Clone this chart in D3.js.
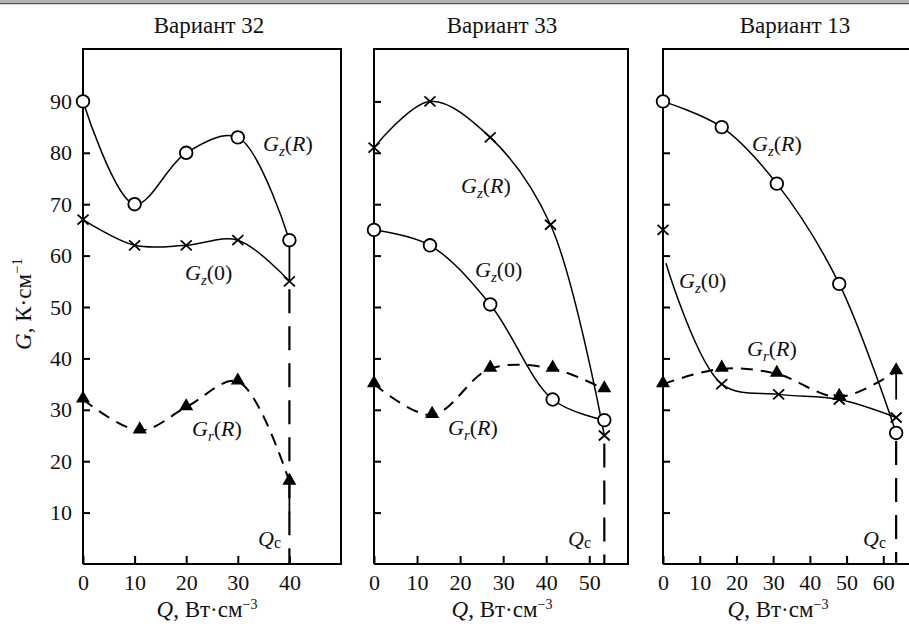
<!DOCTYPE html>
<html>
<head>
<meta charset="utf-8">
<script src="https://cdn.jsdelivr.net/npm/d3@7"></script>
<style>
  body { margin: 0; background: #fff; }
  svg text { font-family: "Liberation Serif", "Times New Roman", "DejaVu Serif", serif; fill: #111; }
</style>
</head>
<body>
<div id="chart"></div>
<script>
// values
var titles = ["Вариант 32", "Вариант 33", "Вариант 13"];
var yTicks = [10, 20, 30, 40, 50, 60, 70, 80, 90];
var xTicks32 = [0, 10, 20, 30, 40];
var xTicks33 = [0, 10, 20, 30, 40, 50];
var xTicks13 = [0, 10, 20, 30, 40, 50, 60];

// Вариант 32
var v32_q     = [0, 10, 20, 30, 40];
var v32_gzR   = [90, 70, 80, 83, 63];
var v32_gz0   = [67, 62, 62, 63, 55];
var v32_grR_q = [0, 11, 20, 30, 40];
var v32_grR   = [32, 26, 30.5, 35.5, 16];
var v32_qc = 40, v32_qcTop = 55;

// Вариант 33
var v33_gzR_q = [0, 13, 27, 41, 53.5];
var v33_gzR   = [81, 90, 83, 66, 25];
var v33_gz0_q = [0, 13, 27, 41.5, 53.5];
var v33_gz0   = [65, 62, 50.5, 32, 28];
var v33_grR_q = [0, 13.5, 27, 41.5, 53.5];
var v33_grR   = [35, 29, 38, 38, 34];
var v33_qc = 53.5, v33_qcTop = 25;

// Вариант 13
var v13_q     = [0, 16, 31, 48, 63.5];
var v13_gzR   = [90, 85, 74, 54.5, 25.5];
var v13_gz0_q = [0, 16, 31.5, 48, 63.5];
var v13_gz0   = [65, 35, 33, 32, 28.5];
var v13_gz0_start = [0.8, 58.5];   // curve starts below the first cross
var v13_grR   = [35, 38, 37, 32.5, 37.5];
var v13_qc = 63.5, v13_qcTop = 25.5;

function pts(xs, ys) { return xs.map(function(d, i) { return [d, ys[i]]; }); }

var W = 909, H = 626;
var svg = d3.select("#chart").append("svg")
    .attr("width", W).attr("height", H);

svg.append("rect").attr("width", W).attr("height", H).attr("fill", "#fff");
// grey strip at the very top
svg.append("rect").attr("x", 0).attr("y", 0).attr("width", W).attr("height", 3).attr("fill", "#b4b4b4");
svg.append("line").attr("x1", 0).attr("x2", W).attr("y1", 3.6).attr("y2", 3.6)
    .attr("stroke", "#555").attr("stroke-width", 1.4);

var plotTop = 49, plotBottom = 564;
var y = d3.scaleLinear().domain([0, 100]).range([plotBottom, plotTop + 1]);

var panels = [
  { title: titles[0], x0: 83, x1: 341, xmax: 50, ticks: xTicks32, titleX: 209, qlabX: 207, yLabels: true,
    gzR: pts(v32_q, v32_gzR), gz0: pts(v32_q, v32_gz0), grR: pts(v32_grR_q, v32_grR),
    gzRMark: "circle", gz0Mark: "cross",
    gz0Line: pts(v32_q, v32_gz0),
    stems: [[[v32_qc, v32_gzR[4]], [v32_qc, v32_gz0[4]]], [[v32_qc, v32_grR[4]], [v32_qc, 10]]],
    qc: v32_qc, qcTop: v32_qcTop,
    labels: [{s: "z", t: "R", x: 263, y: 151}, {s: "z", t: "0", x: 185, y: 280}, {s: "r", t: "R", x: 192, y: 436}],
    qcLab: 258 },
  { title: titles[1], x0: 374, x1: 628, xmax: 59, ticks: xTicks33, titleX: 502, qlabX: 502, yLabels: false,
    gzR: pts(v33_gzR_q, v33_gzR), gz0: pts(v33_gz0_q, v33_gz0), grR: pts(v33_grR_q, v33_grR),
    gzRMark: "cross", gz0Mark: "circle",
    gz0Line: pts(v33_gz0_q, v33_gz0),
    stems: [],
    qc: v33_qc, qcTop: v33_qcTop,
    labels: [{s: "z", t: "R", x: 461, y: 193}, {s: "z", t: "0", x: 475, y: 277}, {s: "r", t: "R", x: 448, y: 435}],
    qcLab: 568 },
  { title: titles[2], x0: 663, x1: 909, xmax: 67, ticks: xTicks13, titleX: 795, qlabX: 778, yLabels: false, open: true,
    gzR: pts(v13_q, v13_gzR), gz0: pts(v13_gz0_q, v13_gz0), grR: pts(v13_q, v13_grR),
    gzRMark: "circle", gz0Mark: "cross",
    gz0Line: [v13_gz0_start].concat(pts(v13_gz0_q, v13_gz0).slice(1)),
    stems: [[[v13_qc, v13_grR[4]], [v13_qc, 32]]],
    qc: v13_qc, qcTop: v13_qcTop,
    labels: [{s: "z", t: "R", x: 752, y: 151}, {s: "z", t: "0", x: 679, y: 288}, {s: "r", t: "R", x: 747, y: 356}],
    qcLab: 863 }
];

var curve = d3.curveCatmullRom.alpha(0.5);

function drawMarks(g, x, data, kind) {
  data.forEach(function(d) {
    var cx = x(d[0]), cy = y(d[1]);
    if (kind === "circle") {
      g.append("circle").attr("cx", cx).attr("cy", cy).attr("r", 6.3)
        .attr("fill", "#fff").attr("stroke", "#000").attr("stroke-width", 1.8);
    } else if (kind === "cross") {
      g.append("path").attr("d", "M" + (cx - 5.5) + "," + (cy - 5) + "L" + (cx + 5.5) + "," + (cy + 5) +
                               "M" + (cx - 5.5) + "," + (cy + 5) + "L" + (cx + 5.5) + "," + (cy - 5))
        .attr("stroke", "#000").attr("stroke-width", 1.8).attr("fill", "none");
    } else {
      g.append("path").attr("d", d3.symbol(d3.symbolTriangle, 85)())
        .attr("transform", "translate(" + cx + "," + (cy - 1) + ")")
        .attr("fill", "#000");
    }
  });
}

function seriesLabel(g, l) {
  var t = g.append("text").attr("x", l.x).attr("y", l.y).style("font-size", "22px");
  t.append("tspan").style("font-style", "italic").text("G");
  t.append("tspan").attr("dy", 5).style("font-style", "italic").style("font-size", "15px").text(l.s);
  t.append("tspan").attr("dy", -5).text("(");
  t.append("tspan").style("font-style", l.t === "R" ? "italic" : "normal").text(l.t);
  t.append("tspan").text(")");
}

panels.forEach(function(p) {
  var x = d3.scaleLinear().domain([0, p.xmax]).range([p.x0, p.x1]);
  var g = svg.append("g");

  // title
  g.append("text").attr("x", p.titleX).attr("y", 33).attr("text-anchor", "middle")
    .style("font-size", "23px").text(p.title);

  // y axis, ticks inside
  var ya = g.append("g").attr("transform", "translate(" + p.x0 + ",0)")
    .call(d3.axisLeft(y).tickValues(yTicks).tickSize(-7).tickPadding(11).tickSizeOuter(0));
  ya.attr("font-family", null).attr("font-size", null);
  ya.select(".domain").remove();
  ya.selectAll("line").attr("stroke", "#000").attr("stroke-width", 2);
  ya.selectAll("text").style("font-size", "22px").attr("fill", "#111");
  if (!p.yLabels) ya.selectAll("text").remove();

  // x axis, ticks inside
  var xa = g.append("g").attr("transform", "translate(0," + plotBottom + ")")
    .call(d3.axisBottom(x).tickValues(p.ticks).tickSize(-8).tickPadding(10).tickSizeOuter(0));
  xa.attr("font-family", null).attr("font-size", null);
  xa.select(".domain").remove();
  xa.selectAll("line").attr("stroke", "#000").attr("stroke-width", 2);
  xa.selectAll("text").style("font-size", "22px").attr("fill", "#111");

  // frame
  var fr = "M" + p.x0 + "," + plotBottom + "V" + plotTop + "H" + p.x1;
  if (!p.open) fr += "V" + plotBottom;
  fr += (p.open ? "M" + p.x1 + "," + plotBottom : "") + "H" + p.x0;
  g.append("path").attr("d", fr).attr("fill", "none").attr("stroke", "#000").attr("stroke-width", 2);

  var line = d3.line().x(function(d) { return x(d[0]); }).y(function(d) { return y(d[1]); }).curve(curve);

  // Qc dashed vertical
  g.append("line").attr("x1", x(p.qc)).attr("x2", x(p.qc))
    .attr("y1", y(p.qcTop) + 8).attr("y2", plotBottom)
    .attr("stroke", "#000").attr("stroke-width", 2.2).attr("stroke-dasharray", "24,13");

  p.stems.forEach(function(s) {
    g.append("line").attr("x1", x(s[0][0])).attr("x2", x(s[1][0]))
      .attr("y1", y(s[0][1])).attr("y2", y(s[1][1]))
      .attr("stroke", "#000").attr("stroke-width", 1.8);
  });

  g.append("path").attr("d", line(p.gzR)).attr("fill", "none").attr("stroke", "#000").attr("stroke-width", 1.5);
  g.append("path").attr("d", line(p.gz0Line)).attr("fill", "none").attr("stroke", "#000").attr("stroke-width", 1.5);
  g.append("path").attr("d", line(p.grR)).attr("fill", "none").attr("stroke", "#000")
    .attr("stroke-width", 2).attr("stroke-dasharray", "12,8");

  drawMarks(g, x, p.gzR, p.gzRMark);
  drawMarks(g, x, p.gz0, p.gz0Mark);
  drawMarks(g, x, p.grR, "tri");

  p.labels.forEach(function(l) { seriesLabel(g, l); });

  // Qc label
  var qt = g.append("text").attr("x", p.qcLab).attr("y", 546).style("font-size", "22px");
  qt.append("tspan").style("font-style", "italic").text("Q");
  qt.append("tspan").attr("dy", 2).style("font-size", "16px").text("c");

  // x axis title
  var xt = g.append("text").attr("x", p.qlabX).attr("y", 617).attr("text-anchor", "middle").style("font-size", "23px");
  xt.append("tspan").style("font-style", "italic").text("Q");
  xt.append("tspan").text(", Вт·см");
  xt.append("tspan").attr("dy", -8).style("font-size", "14px").text("−3");
});

// y axis title
var yt = svg.append("text").attr("transform", "translate(31,304) rotate(-90)")
  .attr("text-anchor", "middle").style("font-size", "23px");
yt.append("tspan").style("font-style", "italic").text("G");
yt.append("tspan").text(", К·см");
yt.append("tspan").attr("dy", -9).style("font-size", "15px").text("−1");
</script>
</body>
</html>
